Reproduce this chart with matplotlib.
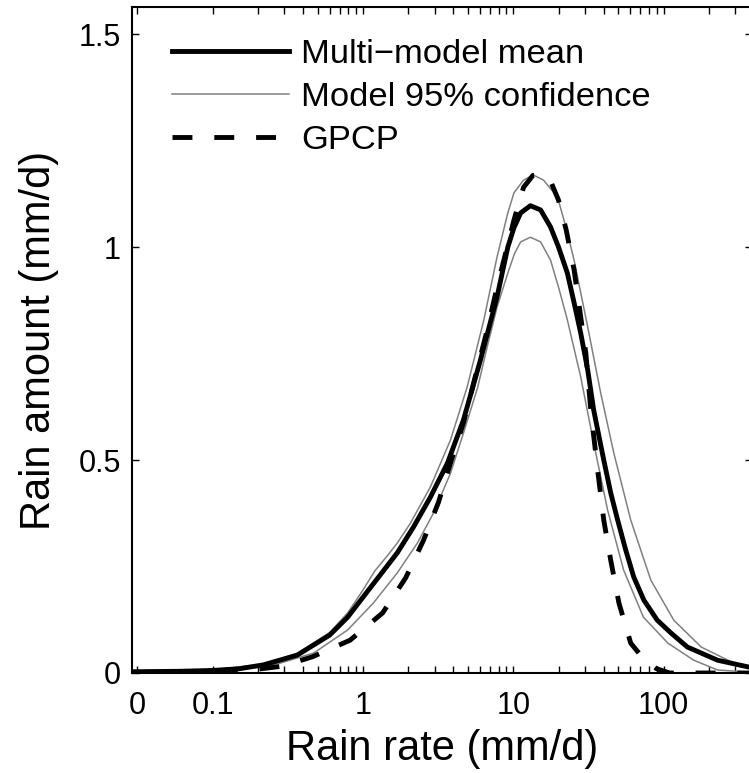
# Rain amount distribution vs rain rate: multi-model mean, model 95% range and GPCP.

import numpy as np
import matplotlib.pyplot as plt
from matplotlib.ticker import FixedLocator, NullFormatter

# --------------------------- DATA ---------------------------

# Multi-model mean.
mean_rate = [0.03, 0.06, 0.1, 0.15, 0.217, 0.365, 0.6, 0.79, 1.0, 1.3, 1.69, 2.17, 2.81, 3.65,
             4.66, 6.05, 7.8, 9.2, 10.1, 11.2, 13.0, 15.2, 17.7, 20.0, 22.9, 25.4, 28.1, 31.3,
             34.3, 40.0, 44.5, 49.5, 56.0, 63.4, 74.0, 90.8, 112, 144, 229, 380]
mean_amount = [0.003, 0.004, 0.006, 0.01, 0.019, 0.042, 0.089, 0.131, 0.178, 0.23, 0.282, 0.343,
               0.413, 0.493, 0.594, 0.735, 0.883, 1.0, 1.045, 1.08, 1.097, 1.087, 1.047, 1.0,
               0.939, 0.869, 0.798, 0.711, 0.617, 0.5, 0.423, 0.359, 0.289, 0.225, 0.171, 0.124,
               0.094, 0.061, 0.03, 0.013]

# Upper edge of the model 95% confidence range.
upper_rate = [0.03, 0.1, 0.217, 0.365, 0.6, 0.79, 1.0, 1.2, 1.45, 1.69, 2.07, 2.81, 3.82, 4.93,
              6.37, 7.8, 9.2, 10.1, 11.7, 13.6, 15.9, 19.7, 22.4, 25.4, 31.3, 38.2, 46.7, 60.5,
              82.3, 117, 178, 295, 380]
upper_amount = [0.003, 0.007, 0.021, 0.046, 0.095, 0.141, 0.195, 0.24, 0.275, 0.305, 0.352, 0.437,
                0.547, 0.671, 0.829, 0.977, 1.08, 1.127, 1.157, 1.169, 1.157, 1.117, 1.047, 0.969,
                0.812, 0.657, 0.516, 0.359, 0.218, 0.124, 0.061, 0.023, 0.012]

# Lower edge of the model 95% confidence range.
lower_rate = [0.03, 0.1, 0.2, 0.28, 0.47, 0.79, 1.17, 1.69, 2.3, 2.95, 3.82, 4.66, 5.8, 6.7, 7.8,
              9.2, 10.2, 11.2, 13.0, 15.2, 17.7, 20.0, 22.9, 28.1, 34.3, 42.4, 54.2, 73.5, 107,
              159, 229, 380]
lower_amount = [0.002, 0.005, 0.014, 0.023, 0.047, 0.101, 0.164, 0.235, 0.305, 0.376, 0.469, 0.563,
                0.671, 0.765, 0.859, 0.939, 0.985, 1.012, 1.023, 1.012, 0.969, 0.906, 0.829, 0.695,
                0.54, 0.383, 0.242, 0.131, 0.07, 0.03, 0.007, 0.002]

# GPCP observations.
gpcp_rate = [0.03, 0.1, 0.2, 0.29, 0.46, 0.82, 1.35, 1.92, 2.53, 3.18, 3.82, 4.66, 5.45, 6.7, 7.8,
             10.1, 11.7, 13.5, 15.5, 17.7, 20.0, 22.5, 25.4, 28.1, 30.4, 32.8, 36.4, 40.0, 44.5,
             50.5, 60.5, 75, 90, 110, 150, 380]
gpcp_amount = [0.001, 0.003, 0.009, 0.016, 0.038, 0.077, 0.141, 0.223, 0.312, 0.401, 0.493, 0.587,
               0.681, 0.805, 0.906, 1.063, 1.14, 1.168, 1.17, 1.155, 1.11, 1.04, 0.946, 0.836,
               0.751, 0.617, 0.477, 0.359, 0.265, 0.164, 0.07, 0.03, 0.01, 0.0, 0.0, 0.0]

# Axis ticks.
x_ticks = [0.0313, 0.1, 1, 10, 100]
x_tick_labels = ['0', '0.1', '1', '10', '100']
x_minor = [0.2, 0.3, 0.4, 0.5, 0.6, 0.7, 0.8, 0.9, 2, 3, 4, 5, 6, 7, 8, 9,
           20, 30, 40, 50, 60, 70, 80, 90, 200, 300]
y_ticks = [0, 0.5, 1, 1.5]
y_tick_labels = ['0', '0.5', '1', '1.5']

# --------------------------- PLOT ---------------------------

plt.rcParams['font.family'] = ['Liberation Sans', 'DejaVu Sans']

fig = plt.figure(figsize=(7.49, 7.73), dpi=100)
ax = fig.add_axes([132/749, 100/773, 619.5/749, 666/773])

ax.plot(upper_rate, upper_amount, color='0.5', lw=1.1, label='Model 95% confidence')
ax.plot(lower_rate, lower_amount, color='0.5', lw=1.1)
ax.plot(mean_rate, mean_amount, color='black', lw=3.5, label='Multi\u2212model mean')
ax.plot(gpcp_rate, gpcp_amount, color='black', lw=3.5, linestyle=(0, (4.1, 4.5)),
        dash_capstyle='butt', label='GPCP')

ax.set_xscale('log')
ax.set_xlim(0.029, 385)
ax.set_ylim(0, 1.5634)

ax.xaxis.set_major_locator(FixedLocator(x_ticks))
ax.set_xticklabels(x_tick_labels)
ax.xaxis.set_minor_locator(FixedLocator(x_minor))
ax.xaxis.set_minor_formatter(NullFormatter())
ax.set_yticks(y_ticks)
ax.set_yticklabels(y_tick_labels)

ax.tick_params(which='both', direction='in', top=True, right=True, length=5, width=1.0,
               labelsize=22)
ax.tick_params(axis='x', which='major', pad=13)
ax.tick_params(axis='y', which='major', pad=8)
for s in ax.spines.values():
    s.set_linewidth(1.5)

ax.set_xlabel('Rain rate (mm/d)', fontsize=30, labelpad=6)
ax.set_ylabel('Rain amount (mm/d)', fontsize=30, labelpad=14)

h, l = ax.get_legend_handles_labels()
order = [1, 0, 2]
ax.legend([h[i] for i in order], [l[i] for i in order], loc='upper left',
          bbox_to_anchor=(0.065, 0.952), frameon=False, fontsize=24.8, handlelength=3.4,
          handletextpad=0.35, labelspacing=0.35, borderpad=0, borderaxespad=0)

fig.savefig('out.png', dpi=100)
